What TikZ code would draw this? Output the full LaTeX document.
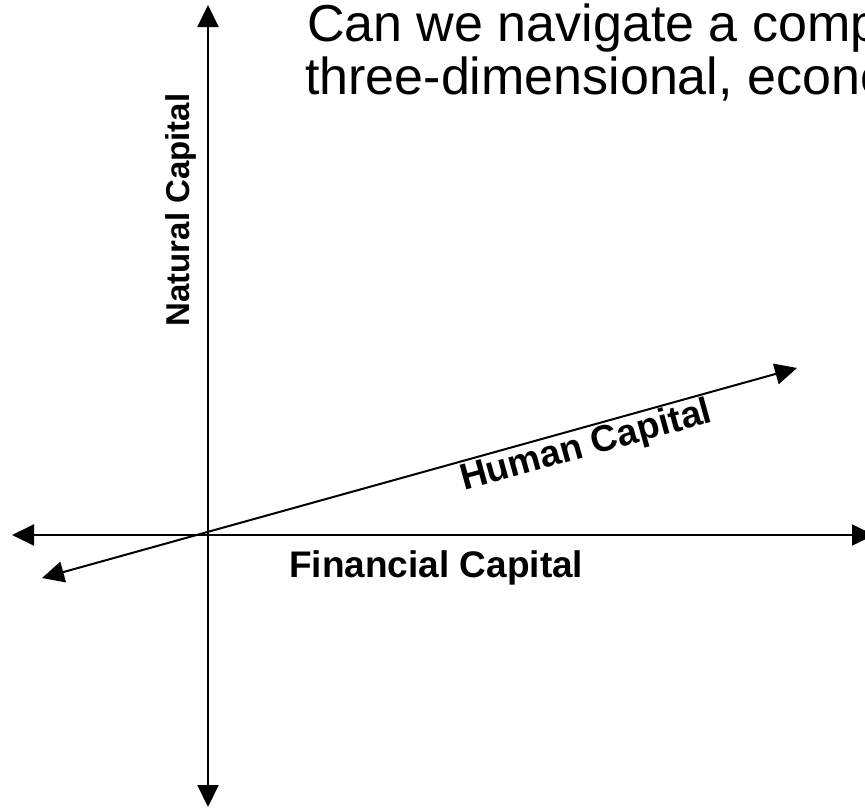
\documentclass[tikz,border=0pt]{standalone}
\usepackage{fontspec}
\setmainfont{Liberation Sans}
\usetikzlibrary{arrows.meta}
\begin{document}
\begin{tikzpicture}[x=1pt,y=-1pt,
  tip/.tip={Triangle[length=22pt,width=21pt]},
  axis/.style={line width=2pt, tip-tip},
  lab/.style={font=\fontsize{37}{44}\selectfont\bfseries, inner sep=0pt},
  ttl/.style={font=\fontsize{52}{58}\selectfont, inner sep=0pt, anchor=base west}]
\useasboundingbox (0,0) rectangle (865,809);
\clip (0,0) rectangle (865,809);
\coordinate (top) at (208,5);
\coordinate (bot) at (208,807);
\coordinate (lft) at (12,535);
\coordinate (rgt) at (874,535);
\coordinate (hl) at (42,578);
\coordinate (hr) at (797,368);
\draw[axis] (top) -- (bot);
\draw[axis] (lft) -- (rgt);
\draw[axis] (hl) -- (hr);
\node[ttl] (t1) at (307,41) {Can we navigate a complex,};
\node[ttl] (t2) at (305,94) {three-dimensional, economic};
\node[lab, font=\fontsize{33}{40}\selectfont\bfseries, rotate=90, anchor=base] (nat) at (189,210) {Natural Capital};
\node[lab, anchor=base west] (fin) at (289,577) {Financial Capital};
\node[lab, rotate=15.4, anchor=base] (hum) at (589,456) {Human Capital};
\end{tikzpicture}
\end{document}
